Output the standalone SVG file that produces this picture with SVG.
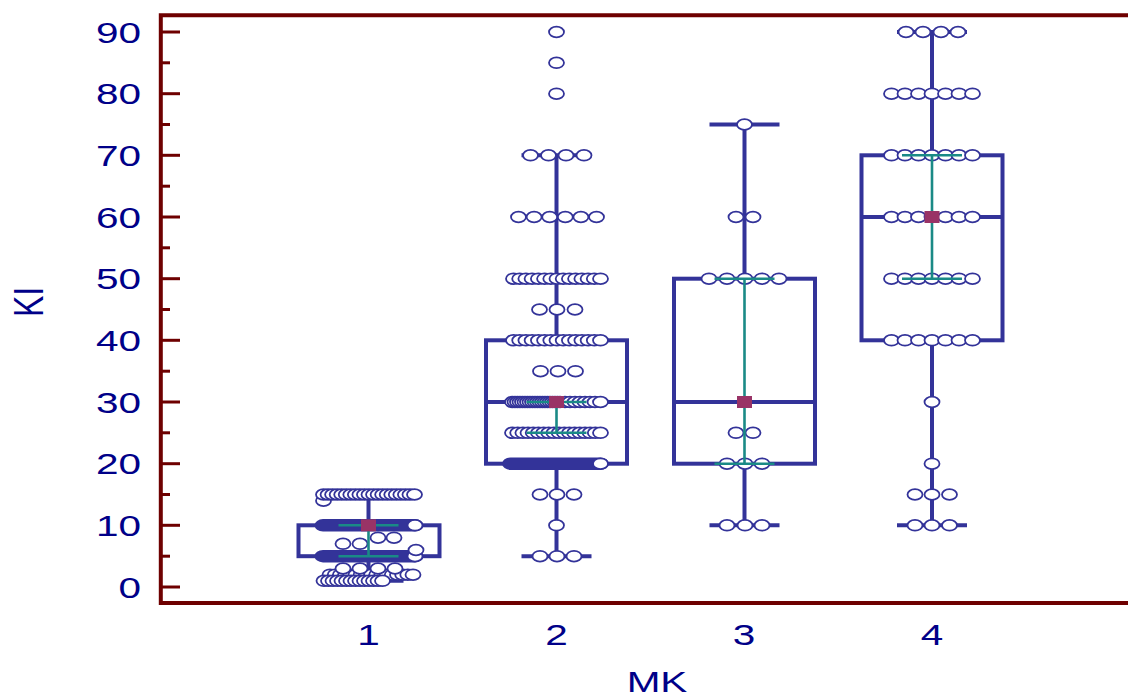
<svg xmlns="http://www.w3.org/2000/svg" xmlns:xlink="http://www.w3.org/1999/xlink" width="1128" height="697" viewBox="0 0 1128 697">
<style>
.ax{stroke:#6e0000;stroke-width:4;fill:none}
.tk{stroke:#6e0000;stroke-width:3}
.lbl{font-family:"Liberation Sans",Arial,sans-serif;font-size:30px;fill:#000088}
.bx{stroke:#333399;stroke-width:4;fill:none}
.wh{stroke:#333399;stroke-width:4}
.pill{fill:#333399}
.ci{stroke:#1a8a86;stroke-width:2.6}
.mn{fill:#993366}
</style>
<defs>
<ellipse id="d" cx="0" cy="0" rx="7.5" ry="5.4" fill="#ffffff" stroke="#333399" stroke-width="1.8"/>
</defs>
<rect width="1128" height="697" fill="#ffffff"/>

<g id="axes">
<path class="ax" d="M1128,15.3 H160.8 V603 H1128"/>
<g class="tk">
<line x1="160" y1="32" x2="180" y2="32"/><line x1="160" y1="62.8" x2="170" y2="62.8"/>
<line x1="160" y1="93.7" x2="180" y2="93.7"/><line x1="160" y1="124.5" x2="170" y2="124.5"/>
<line x1="160" y1="155.3" x2="180" y2="155.3"/><line x1="160" y1="186.2" x2="170" y2="186.2"/>
<line x1="160" y1="217" x2="180" y2="217"/><line x1="160" y1="247.8" x2="170" y2="247.8"/>
<line x1="160" y1="278.7" x2="180" y2="278.7"/><line x1="160" y1="309.5" x2="170" y2="309.5"/>
<line x1="160" y1="340.3" x2="180" y2="340.3"/><line x1="160" y1="371.2" x2="170" y2="371.2"/>
<line x1="160" y1="402" x2="180" y2="402"/><line x1="160" y1="432.8" x2="170" y2="432.8"/>
<line x1="160" y1="463.7" x2="180" y2="463.7"/><line x1="160" y1="494.5" x2="170" y2="494.5"/>
<line x1="160" y1="525.3" x2="180" y2="525.3"/><line x1="160" y1="556.2" x2="170" y2="556.2"/>
<line x1="160" y1="587" x2="180" y2="587"/>
</g>
<g class="lbl" text-anchor="end">
<text transform="translate(141,42.5) scale(1.35,1)">90</text>
<text transform="translate(141,104.2) scale(1.35,1)">80</text>
<text transform="translate(141,165.8) scale(1.35,1)">70</text>
<text transform="translate(141,227.5) scale(1.35,1)">60</text>
<text transform="translate(141,289.2) scale(1.35,1)">50</text>
<text transform="translate(141,350.8) scale(1.35,1)">40</text>
<text transform="translate(141,412.5) scale(1.35,1)">30</text>
<text transform="translate(141,474.2) scale(1.35,1)">20</text>
<text transform="translate(141,535.8) scale(1.35,1)">10</text>
<text transform="translate(141,597.5) scale(1.35,1)">0</text>
</g>
<g class="lbl" text-anchor="middle">
<text transform="translate(368.5,645) scale(1.35,1)">1</text>
<text transform="translate(556.5,645) scale(1.35,1)">2</text>
<text transform="translate(744,645) scale(1.35,1)">3</text>
<text transform="translate(932,645) scale(1.35,1)">4</text>
<text transform="translate(657,692) scale(1.35,1)">MK</text>
<text transform="translate(43,302) scale(1.35,1) rotate(-90)" style="font-size:32px">KI</text>
</g>
</g>

<g id="group1">
<rect class="bx" x="298.5" y="525.3" width="141" height="30.9"/>
<line class="wh" x1="368.5" y1="494.5" x2="368.5" y2="525.3"/>
<line class="wh" x1="368.5" y1="556.2" x2="368.5" y2="580.8"/>
<line class="wh" x1="333.5" y1="494.5" x2="403.5" y2="494.5"/>
<line class="wh" x1="333.5" y1="580.8" x2="403.5" y2="580.8"/>
<g id="g1-v2">
<use xlink:href="#d" x="330" y="574.7"/><use xlink:href="#d" x="335.2" y="574.7"/><use xlink:href="#d" x="340.4" y="574.7"/><use xlink:href="#d" x="345.6" y="574.7"/><use xlink:href="#d" x="350.8" y="574.7"/><use xlink:href="#d" x="356" y="574.7"/><use xlink:href="#d" x="361.1" y="574.7"/><use xlink:href="#d" x="366.3" y="574.7"/><use xlink:href="#d" x="371.5" y="574.7"/><use xlink:href="#d" x="376.7" y="574.7"/><use xlink:href="#d" x="381.9" y="574.7"/><use xlink:href="#d" x="387.1" y="574.7"/><use xlink:href="#d" x="392.3" y="574.7"/><use xlink:href="#d" x="397.5" y="574.7"/><use xlink:href="#d" x="402.7" y="574.7"/><use xlink:href="#d" x="407.8" y="574.7"/><use xlink:href="#d" x="413" y="574.7"/>
</g>
<g id="g1-v1">
<use xlink:href="#d" x="324" y="580.8"/><use xlink:href="#d" x="328.5" y="580.8"/><use xlink:href="#d" x="333" y="580.8"/><use xlink:href="#d" x="337.5" y="580.8"/><use xlink:href="#d" x="342" y="580.8"/><use xlink:href="#d" x="346.5" y="580.8"/><use xlink:href="#d" x="351" y="580.8"/><use xlink:href="#d" x="355.5" y="580.8"/><use xlink:href="#d" x="360" y="580.8"/><use xlink:href="#d" x="364.5" y="580.8"/><use xlink:href="#d" x="369" y="580.8"/><use xlink:href="#d" x="373.5" y="580.8"/><use xlink:href="#d" x="378" y="580.8"/><use xlink:href="#d" x="382.5" y="580.8"/>
</g>
<g id="g1-v3">
<use xlink:href="#d" x="343" y="568.5"/><use xlink:href="#d" x="360" y="568.5"/><use xlink:href="#d" x="378" y="568.5"/><use xlink:href="#d" x="395" y="568.5"/>
</g>
<rect class="pill" x="314.6" y="550" width="108.8" height="12.4" rx="8.4" ry="6.2"/>
<use xlink:href="#d" x="415" y="556.2"/>
<use xlink:href="#d" x="416" y="550"/>
<use xlink:href="#d" x="343" y="543.8"/><use xlink:href="#d" x="360" y="543.8"/>
<use xlink:href="#d" x="378" y="537.7"/><use xlink:href="#d" x="394" y="537.7"/>
<rect class="pill" x="314.6" y="519.1" width="108.8" height="12.4" rx="8.4" ry="6.2"/>
<use xlink:href="#d" x="415" y="525.3"/>
<use xlink:href="#d" x="323.5" y="500.7"/>
<g id="g1-v15">
<use xlink:href="#d" x="323.5" y="494.5"/><use xlink:href="#d" x="328.05" y="494.5"/><use xlink:href="#d" x="332.6" y="494.5"/><use xlink:href="#d" x="337.15" y="494.5"/><use xlink:href="#d" x="341.7" y="494.5"/><use xlink:href="#d" x="346.25" y="494.5"/><use xlink:href="#d" x="350.8" y="494.5"/><use xlink:href="#d" x="355.35" y="494.5"/><use xlink:href="#d" x="359.9" y="494.5"/><use xlink:href="#d" x="364.45" y="494.5"/><use xlink:href="#d" x="369" y="494.5"/><use xlink:href="#d" x="373.55" y="494.5"/><use xlink:href="#d" x="378.1" y="494.5"/><use xlink:href="#d" x="382.65" y="494.5"/><use xlink:href="#d" x="387.2" y="494.5"/><use xlink:href="#d" x="391.75" y="494.5"/><use xlink:href="#d" x="396.3" y="494.5"/><use xlink:href="#d" x="400.85" y="494.5"/><use xlink:href="#d" x="405.4" y="494.5"/><use xlink:href="#d" x="409.95" y="494.5"/><use xlink:href="#d" x="414.5" y="494.5"/>
</g>
<g class="ci">
<line x1="338.5" y1="525.3" x2="398.5" y2="525.3"/>
<line x1="338.5" y1="556.2" x2="398.5" y2="556.2"/>
<line x1="368.5" y1="525.3" x2="368.5" y2="556.2"/>
</g>
<rect class="mn" x="361" y="519.3" width="15" height="12"/>
</g>

<g id="group2">
<rect class="bx" x="486" y="340.3" width="141" height="123.4"/>
<line class="wh" x1="486" y1="402" x2="627" y2="402"/>
<line class="wh" x1="556.5" y1="155.3" x2="556.5" y2="340.3"/>
<line class="wh" x1="556.5" y1="463.7" x2="556.5" y2="556.2"/>
<line class="wh" x1="521.5" y1="155.3" x2="591.5" y2="155.3"/>
<line class="wh" x1="521.5" y1="556.2" x2="591.5" y2="556.2"/>
<use xlink:href="#d" x="540" y="556.2"/><use xlink:href="#d" x="557" y="556.2"/><use xlink:href="#d" x="574" y="556.2"/>
<use xlink:href="#d" x="556.5" y="525.3"/>
<use xlink:href="#d" x="540" y="494.5"/><use xlink:href="#d" x="557" y="494.5"/><use xlink:href="#d" x="574" y="494.5"/>
<rect class="pill" x="502.1" y="457.5" width="106.8" height="12.4" rx="8.4" ry="6.2"/>
<use xlink:href="#d" x="600.5" y="463.7"/>
<g id="g2-v25">
<use xlink:href="#d" x="512.5" y="432.8"/><use xlink:href="#d" x="517.7" y="432.8"/><use xlink:href="#d" x="522.9" y="432.8"/><use xlink:href="#d" x="528" y="432.8"/><use xlink:href="#d" x="533.2" y="432.8"/><use xlink:href="#d" x="538.4" y="432.8"/><use xlink:href="#d" x="543.6" y="432.8"/><use xlink:href="#d" x="548.7" y="432.8"/><use xlink:href="#d" x="553.9" y="432.8"/><use xlink:href="#d" x="559.1" y="432.8"/><use xlink:href="#d" x="564.3" y="432.8"/><use xlink:href="#d" x="569.4" y="432.8"/><use xlink:href="#d" x="574.6" y="432.8"/><use xlink:href="#d" x="579.8" y="432.8"/><use xlink:href="#d" x="585" y="432.8"/><use xlink:href="#d" x="590.1" y="432.8"/><use xlink:href="#d" x="595.3" y="432.8"/><use xlink:href="#d" x="600.5" y="432.8"/>
</g>
<g id="g2-v30">
<use xlink:href="#d" x="512.5" y="402"/><use xlink:href="#d" x="515" y="402"/><use xlink:href="#d" x="517.5" y="402"/><use xlink:href="#d" x="520" y="402"/><use xlink:href="#d" x="522.5" y="402"/><use xlink:href="#d" x="525" y="402"/><use xlink:href="#d" x="527.5" y="402"/><use xlink:href="#d" x="530" y="402"/><use xlink:href="#d" x="532.5" y="402"/><use xlink:href="#d" x="535" y="402"/><use xlink:href="#d" x="537.5" y="402"/><use xlink:href="#d" x="540" y="402"/><use xlink:href="#d" x="542.5" y="402"/><use xlink:href="#d" x="545" y="402"/><use xlink:href="#d" x="547.5" y="402"/><use xlink:href="#d" x="550" y="402"/><use xlink:href="#d" x="552.5" y="402"/><use xlink:href="#d" x="555" y="402"/><use xlink:href="#d" x="557.5" y="402"/><use xlink:href="#d" x="560" y="402"/><use xlink:href="#d" x="565" y="402"/><use xlink:href="#d" x="570" y="402"/><use xlink:href="#d" x="575" y="402"/><use xlink:href="#d" x="580" y="402"/><use xlink:href="#d" x="585" y="402"/><use xlink:href="#d" x="590" y="402"/><use xlink:href="#d" x="595" y="402"/><use xlink:href="#d" x="600.5" y="402"/>
</g>
<use xlink:href="#d" x="540.5" y="371.2"/><use xlink:href="#d" x="558" y="371.2"/><use xlink:href="#d" x="575.5" y="371.2"/>
<g id="g2-v40">
<use xlink:href="#d" x="513.5" y="340.3"/><use xlink:href="#d" x="519.7" y="340.3"/><use xlink:href="#d" x="525.9" y="340.3"/><use xlink:href="#d" x="532.1" y="340.3"/><use xlink:href="#d" x="538.4" y="340.3"/><use xlink:href="#d" x="544.6" y="340.3"/><use xlink:href="#d" x="550.8" y="340.3"/><use xlink:href="#d" x="557" y="340.3"/><use xlink:href="#d" x="563.2" y="340.3"/><use xlink:href="#d" x="569.4" y="340.3"/><use xlink:href="#d" x="575.6" y="340.3"/><use xlink:href="#d" x="581.9" y="340.3"/><use xlink:href="#d" x="588.1" y="340.3"/><use xlink:href="#d" x="594.3" y="340.3"/><use xlink:href="#d" x="600.5" y="340.3"/>
</g>
<use xlink:href="#d" x="539.5" y="309.5"/><use xlink:href="#d" x="557" y="309.5"/><use xlink:href="#d" x="575" y="309.5"/>
<g id="g2-v50">
<use xlink:href="#d" x="513.5" y="278.7"/><use xlink:href="#d" x="519.7" y="278.7"/><use xlink:href="#d" x="525.9" y="278.7"/><use xlink:href="#d" x="532.1" y="278.7"/><use xlink:href="#d" x="538.4" y="278.7"/><use xlink:href="#d" x="544.6" y="278.7"/><use xlink:href="#d" x="550.8" y="278.7"/><use xlink:href="#d" x="557" y="278.7"/><use xlink:href="#d" x="563.2" y="278.7"/><use xlink:href="#d" x="569.4" y="278.7"/><use xlink:href="#d" x="575.6" y="278.7"/><use xlink:href="#d" x="581.9" y="278.7"/><use xlink:href="#d" x="588.1" y="278.7"/><use xlink:href="#d" x="594.3" y="278.7"/><use xlink:href="#d" x="600.5" y="278.7"/>
</g>
<use xlink:href="#d" x="518.5" y="217"/><use xlink:href="#d" x="534.1" y="217"/><use xlink:href="#d" x="549.7" y="217"/><use xlink:href="#d" x="565.3" y="217"/><use xlink:href="#d" x="580.9" y="217"/><use xlink:href="#d" x="596.5" y="217"/>
<use xlink:href="#d" x="530.5" y="155.3"/><use xlink:href="#d" x="548.5" y="155.3"/><use xlink:href="#d" x="566" y="155.3"/><use xlink:href="#d" x="584" y="155.3"/>
<use xlink:href="#d" x="556.5" y="93.7"/>
<use xlink:href="#d" x="556.5" y="62.8"/>
<use xlink:href="#d" x="556.5" y="32"/>
<g class="ci">
<line x1="526.5" y1="402" x2="586.5" y2="402"/>
<line x1="526.5" y1="432.8" x2="586.5" y2="432.8"/>
<line x1="556.5" y1="402" x2="556.5" y2="432.8"/>
</g>
<rect class="mn" x="549" y="396" width="15" height="12"/>
</g>

<g id="group3">
<rect class="bx" x="674" y="278.7" width="141" height="185"/>
<line class="wh" x1="674" y1="402" x2="815" y2="402"/>
<line class="wh" x1="744.5" y1="124.5" x2="744.5" y2="278.7"/>
<line class="wh" x1="744.5" y1="463.7" x2="744.5" y2="525.3"/>
<line class="wh" x1="709.5" y1="124.5" x2="779.5" y2="124.5"/>
<line class="wh" x1="709.5" y1="525.3" x2="779.5" y2="525.3"/>
<use xlink:href="#d" x="727" y="525.3"/><use xlink:href="#d" x="745" y="525.3"/><use xlink:href="#d" x="762" y="525.3"/>
<use xlink:href="#d" x="727" y="463.7"/><use xlink:href="#d" x="745" y="463.7"/><use xlink:href="#d" x="762" y="463.7"/>
<use xlink:href="#d" x="736" y="432.8"/><use xlink:href="#d" x="753" y="432.8"/>
<use xlink:href="#d" x="709" y="278.7"/><use xlink:href="#d" x="727" y="278.7"/><use xlink:href="#d" x="745" y="278.7"/><use xlink:href="#d" x="762" y="278.7"/><use xlink:href="#d" x="779" y="278.7"/>
<use xlink:href="#d" x="736" y="217"/><use xlink:href="#d" x="753" y="217"/>
<use xlink:href="#d" x="744.5" y="124.5"/>
<g class="ci">
<line x1="714.5" y1="278.7" x2="774.5" y2="278.7"/>
<line x1="714.5" y1="463.7" x2="774.5" y2="463.7"/>
<line x1="744.5" y1="278.7" x2="744.5" y2="463.7"/>
</g>
<rect class="mn" x="737" y="396" width="15" height="12"/>
</g>

<g id="group4">
<rect class="bx" x="861.5" y="155.3" width="141" height="185"/>
<line class="wh" x1="861.5" y1="217" x2="1002.5" y2="217"/>
<line class="wh" x1="932" y1="32" x2="932" y2="155.3"/>
<line class="wh" x1="932" y1="340.3" x2="932" y2="525.3"/>
<line class="wh" x1="897" y1="32" x2="967" y2="32"/>
<line class="wh" x1="897" y1="525.3" x2="967" y2="525.3"/>
<use xlink:href="#d" x="915" y="525.3"/><use xlink:href="#d" x="932" y="525.3"/><use xlink:href="#d" x="949.5" y="525.3"/>
<use xlink:href="#d" x="915" y="494.5"/><use xlink:href="#d" x="932" y="494.5"/><use xlink:href="#d" x="949.5" y="494.5"/>
<use xlink:href="#d" x="932" y="463.7"/>
<use xlink:href="#d" x="932" y="402"/>
<use xlink:href="#d" x="891.5" y="340.3"/><use xlink:href="#d" x="905" y="340.3"/><use xlink:href="#d" x="918.5" y="340.3"/><use xlink:href="#d" x="932" y="340.3"/><use xlink:href="#d" x="945.5" y="340.3"/><use xlink:href="#d" x="959" y="340.3"/><use xlink:href="#d" x="972.5" y="340.3"/>
<use xlink:href="#d" x="891.5" y="278.7"/><use xlink:href="#d" x="905" y="278.7"/><use xlink:href="#d" x="918.5" y="278.7"/><use xlink:href="#d" x="932" y="278.7"/><use xlink:href="#d" x="945.5" y="278.7"/><use xlink:href="#d" x="959" y="278.7"/><use xlink:href="#d" x="972.5" y="278.7"/>
<use xlink:href="#d" x="891.5" y="217"/><use xlink:href="#d" x="905" y="217"/><use xlink:href="#d" x="918.5" y="217"/><use xlink:href="#d" x="932" y="217"/><use xlink:href="#d" x="945.5" y="217"/><use xlink:href="#d" x="959" y="217"/><use xlink:href="#d" x="972.5" y="217"/>
<use xlink:href="#d" x="891.5" y="155.3"/><use xlink:href="#d" x="905" y="155.3"/><use xlink:href="#d" x="918.5" y="155.3"/><use xlink:href="#d" x="932" y="155.3"/><use xlink:href="#d" x="945.5" y="155.3"/><use xlink:href="#d" x="959" y="155.3"/><use xlink:href="#d" x="972.5" y="155.3"/>
<use xlink:href="#d" x="891.5" y="93.7"/><use xlink:href="#d" x="905" y="93.7"/><use xlink:href="#d" x="918.5" y="93.7"/><use xlink:href="#d" x="932" y="93.7"/><use xlink:href="#d" x="945.5" y="93.7"/><use xlink:href="#d" x="959" y="93.7"/><use xlink:href="#d" x="972.5" y="93.7"/>
<use xlink:href="#d" x="906" y="32"/><use xlink:href="#d" x="923" y="32"/><use xlink:href="#d" x="941" y="32"/><use xlink:href="#d" x="958" y="32"/>
<g class="ci">
<line x1="902" y1="155.3" x2="962" y2="155.3"/>
<line x1="902" y1="278.7" x2="962" y2="278.7"/>
<line x1="932" y1="155.3" x2="932" y2="278.7"/>
</g>
<rect class="mn" x="924.5" y="211" width="15" height="12"/>
</g>
</svg>
